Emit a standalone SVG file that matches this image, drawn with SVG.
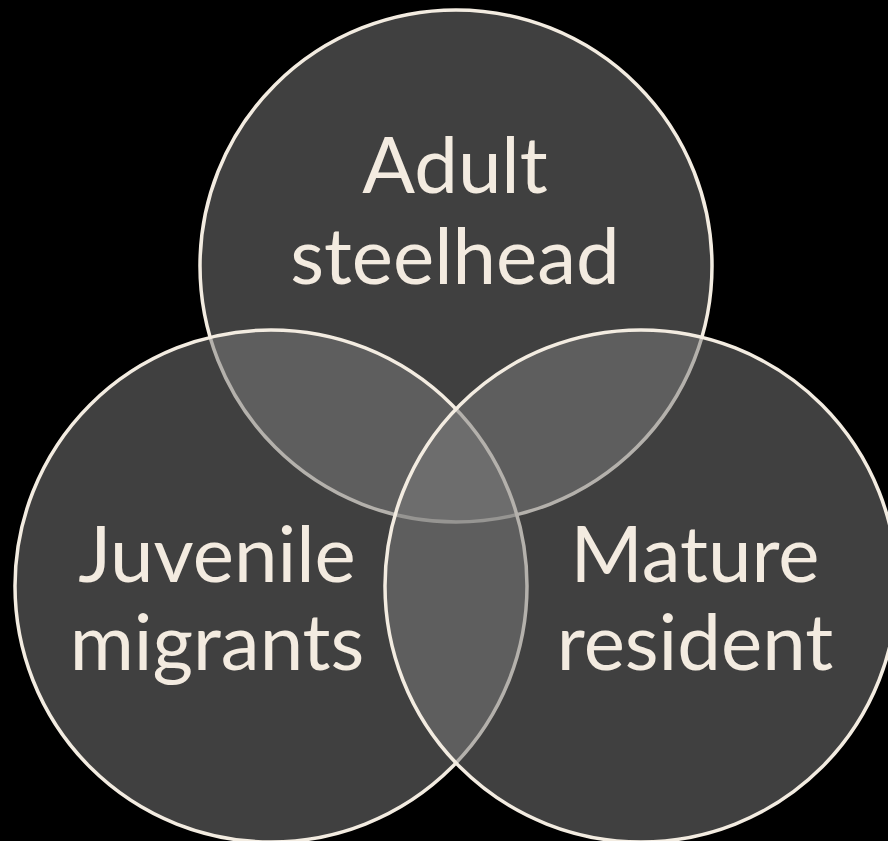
<svg xmlns="http://www.w3.org/2000/svg" width="888" height="841" viewBox="0 0 888 841">
<style>
.c{fill:rgb(123,123,123);fill-opacity:0.52;stroke:#f3ece1;stroke-width:3.5}
.t{font-family:Lato,"Open Sans",sans-serif;font-size:78px;fill:#f3ebe0;text-anchor:middle}
</style>
<rect width="888" height="841" fill="#000"/>
<g id="adult">
<circle class="c" cx="456" cy="266" r="256"/>
</g>
<g id="juvenile">
<circle class="c" cx="271" cy="586" r="256"/>
</g>
<g id="mature">
<circle class="c" cx="641" cy="586" r="256"/>
</g>
<g id="labels">
<text class="t" x="455" y="193">Adult</text>
<text class="t" x="455" y="284">steelhead</text>
<text class="t" x="217" y="582">Juvenile</text>
<text class="t" x="217" y="670">migrants</text>
<text class="t" x="695" y="582">Mature</text>
<text class="t" x="695" y="670">resident</text>
</g>
<g id="connectors"/>
</svg>
